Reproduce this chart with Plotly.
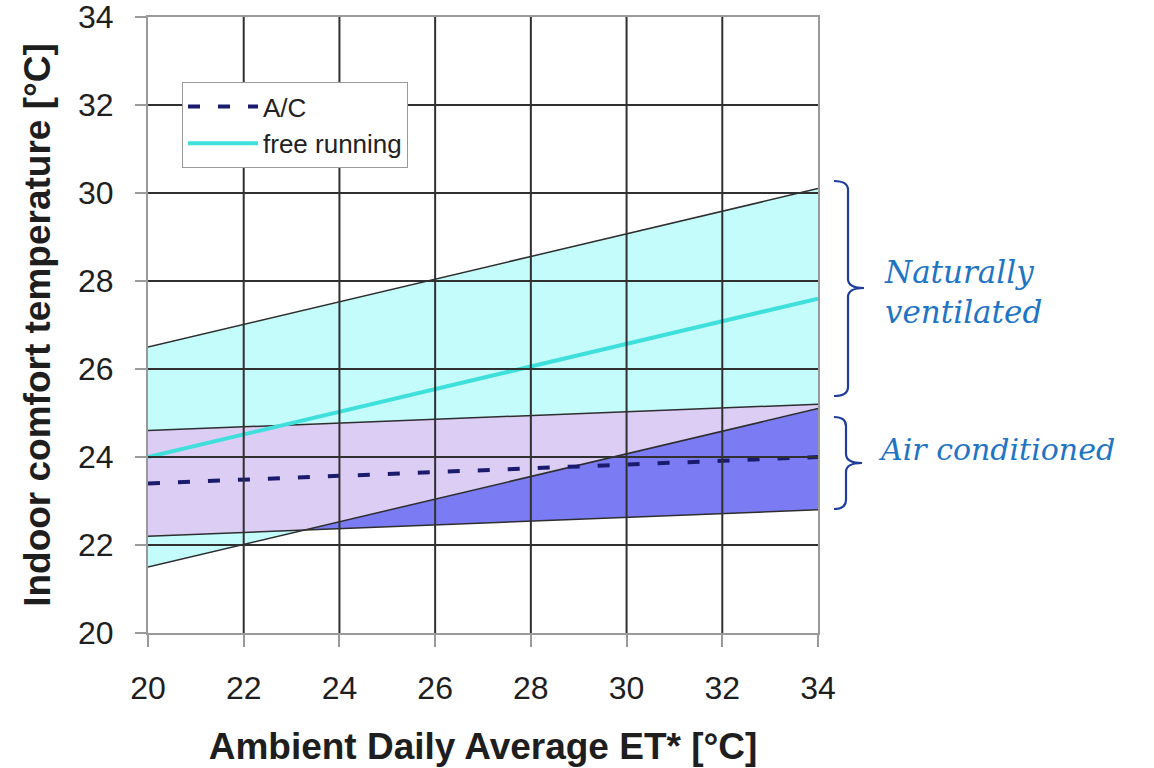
import numpy as np
import plotly.graph_objects as go

# ---- data ----
et = [20, 34]                      # ambient daily average ET* [°C]
fr_comfort = [24.0, 27.6]          # free running comfort line
fr_upper = [26.5, 30.1]
fr_lower = [21.5, 25.1]
ac_comfort = [23.4, 24.0]          # A/C comfort line
ac_upper = [24.6, 25.2]
ac_lower = [22.2, 22.8]
x_ticks = [20, 22, 24, 26, 28, 30, 32, 34]
y_ticks = [20, 22, 24, 26, 28, 30, 32, 34]

# ---- colours ----
C_CYAN_FILL = "#c4fcfc"
C_LAV_FILL = "#dccdf5"
C_BLUE_FILL = "#7b7bf3"
C_FR_LINE = "#3fe0dc"
C_AC_LINE = "#1b1b6e"
C_EDGE = "#2e2e2e"
C_GRID = "#303030"
C_AXIS = "#9a9a9a"
C_TEXT_BLUE = "#1f75c4"
C_BRACE = "#1f3d9c"

# overlap of the two bands (geometry derived from the data lines)
s_fr = (fr_lower[1] - fr_lower[0]) / (et[1] - et[0])
s_ac = (ac_lower[1] - ac_lower[0]) / (et[1] - et[0])
x_cross = et[0] + (ac_lower[0] - fr_lower[0]) / (s_fr - s_ac)
ov_x = [et[0], x_cross, et[1]]
ov_lo = [max(a, b) for a, b in zip(np.interp(ov_x, et, fr_lower), np.interp(ov_x, et, ac_lower))]
ov_hi = [min(a, b) for a, b in zip(np.interp(ov_x, et, fr_upper), np.interp(ov_x, et, ac_upper))]

fig = go.Figure()

def band(x, lo, hi, color):
    fig.add_trace(go.Scatter(x=list(x) + list(x)[::-1], y=list(lo) + list(hi)[::-1],
                             fill="toself", fillcolor=color, mode="none",
                             showlegend=False, hoverinfo="skip"))

band(et, fr_lower, fr_upper, C_CYAN_FILL)
band(et, ac_lower, ac_upper, C_BLUE_FILL)
band(ov_x, ov_lo, ov_hi, C_LAV_FILL)

for yy in (fr_upper, fr_lower, ac_upper, ac_lower):
    fig.add_trace(go.Scatter(x=et, y=yy, mode="lines", line=dict(color=C_EDGE, width=1.5),
                             showlegend=False, hoverinfo="skip"))

fig.add_trace(go.Scatter(x=et, y=ac_comfort, mode="lines", name="A/C",
                         line=dict(color=C_AC_LINE, width=4, dash="12px,18px")))
fig.add_trace(go.Scatter(x=et, y=fr_comfort, mode="lines", name="free running",
                         line=dict(color=C_FR_LINE, width=4)))

# grid lines drawn above the filled areas
shapes = []
for xv in x_ticks[1:-1]:
    shapes.append(dict(type="line", xref="x", yref="y", x0=xv, x1=xv, y0=y_ticks[0], y1=y_ticks[-1],
                       line=dict(color=C_GRID, width=2), layer="above"))
for yv in y_ticks[1:-1]:
    shapes.append(dict(type="line", xref="x", yref="y", x0=x_ticks[0], x1=x_ticks[-1], y0=yv, y1=yv,
                       line=dict(color=C_GRID, width=2), layer="above"))

# plot-area geometry in screen pixels (page body margin removed via post_script)
PL, PW, PT, PH = 148, 670, 17, 616
FIG_W, FIG_H = 1154, 768
def px(v):
    return (v - PL) / PW
def py(v):
    return (PT + PH - v) / PH

def brace(x0, xm, xt, yt, ym, yb, r=9):
    pts = [
        ("M", [(x0, yt)]),
        ("Q", [(xm, yt), (xm, yt + r)]),
        ("L", [(xm, ym - r)]),
        ("Q", [(xm, ym), (xt, ym)]),
        ("Q", [(xm, ym), (xm, ym + r)]),
        ("L", [(xm, yb - r)]),
        ("Q", [(xm, yb), (x0, yb)]),
    ]
    path = ""
    for cmd, pp in pts:
        path += cmd + " ".join(f"{px(a):.5f},{py(b):.5f}" for a, b in pp) + " "
    return dict(type="path", xref="paper", yref="paper", path=path.strip(),
                line=dict(color=C_BRACE, width=2.2), layer="above")

shapes.append(brace(834, 848, 864, 181, 288, 396))
shapes.append(brace(834, 846, 862, 417, 463, 509))

annotations = [
    dict(xref="paper", yref="paper", x=px(882), y=py(292), xanchor="left", yanchor="middle",
         text="<i>Naturally<br>ventilated</i>", showarrow=False, align="left",
         font=dict(family="DejaVu Serif", size=31, color=C_TEXT_BLUE)),
    dict(xref="paper", yref="paper", x=px(876), y=py(449), xanchor="left", yanchor="middle",
         text="<i>Air conditioned</i>", showarrow=False, align="left",
         font=dict(family="DejaVu Serif", size=30, color=C_TEXT_BLUE)),
]

axis_font = dict(family="Liberation Sans, Arial", size=32, color="#1e1e1e")
title_font = dict(family="Liberation Sans, Arial", size=37, color="#1e1e1e")

fig.update_layout(
    width=FIG_W, height=FIG_H, autosize=False,
    margin=dict(l=PL, r=FIG_W - PL - PW, t=PT, b=FIG_H - PT - PH, autoexpand=False),
    paper_bgcolor="white", plot_bgcolor="white",
    shapes=shapes, annotations=annotations,
    showlegend=True,
    legend=dict(x=px(182), y=py(82), xanchor="left", yanchor="top",
                bgcolor="white", bordercolor="#9a9a9a", borderwidth=1,
                font=dict(family="Liberation Sans, Arial", size=26, color="#222222"),
                itemwidth=70, tracegroupgap=0),
    xaxis=dict(range=[x_ticks[0], x_ticks[-1]], tickvals=x_ticks, ticktext=[str(v) for v in x_ticks],
               showgrid=False, zeroline=False, showline=True, linecolor=C_AXIS, linewidth=2,
               mirror=True, ticks="outside", ticklen=12, tickcolor=C_AXIS, tickwidth=1.5,
               tickfont=axis_font, ticklabelstandoff=14, ticklabeloverflow="allow",
               automargin=False,
               title=dict(text="<b>Ambient Daily Average ET* [°C]</b>", font=title_font, standoff=28)),
    yaxis=dict(range=[y_ticks[0], y_ticks[-1]], tickvals=y_ticks, ticktext=[str(v) for v in y_ticks],
               showgrid=False, zeroline=False, showline=True, linecolor=C_AXIS, linewidth=2,
               mirror=True, ticks="outside", ticklen=11, tickcolor=C_AXIS, tickwidth=1.5,
               tickfont=axis_font, ticklabelstandoff=15, ticklabeloverflow="allow",
               automargin=False,
               title=dict(text="<b>Indoor comfort temperature [°C]</b>", font=title_font, standoff=16)),
)

fig.write_html("out.html", config={"displayModeBar": False},
               post_script="document.body.style.margin='0';document.body.style.padding='0';")
